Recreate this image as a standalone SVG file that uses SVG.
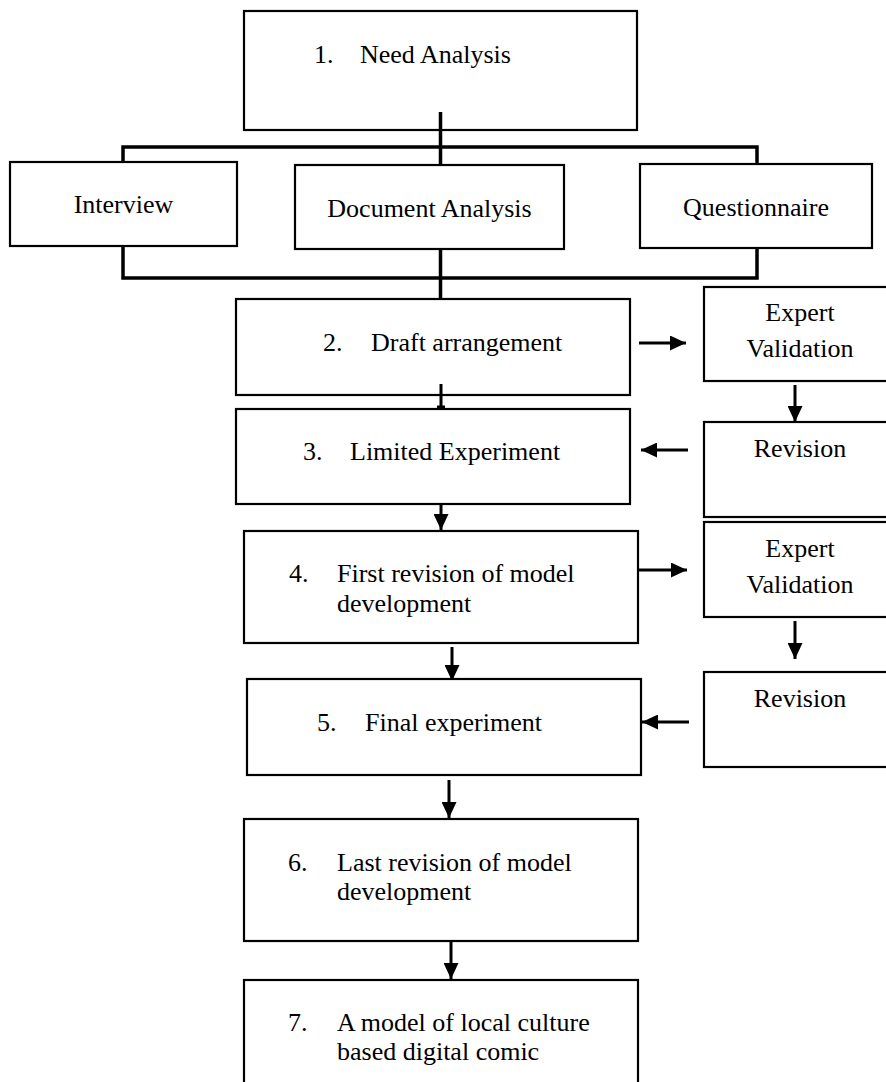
<svg xmlns="http://www.w3.org/2000/svg" width="886" height="1082" viewBox="0 0 886 1082">
<style>
.box{fill:#fff;stroke:#000;stroke-width:2.2}
.t{font-family:"Liberation Serif","Times New Roman",serif;font-size:26px;fill:#000}
.m{text-anchor:middle}
.ln{fill:none;stroke:#000;stroke-width:3.5}
.ar{fill:none;stroke:#000;stroke-width:3;marker-end:url(#ah)}
</style>
<defs>
<marker id="ah" markerUnits="userSpaceOnUse" markerWidth="16" markerHeight="15" refX="16" refY="7.5" orient="auto">
<path d="M0,0 L16,7.5 L0,15 z" fill="#000"/>
</marker>
</defs>
<rect width="886" height="1082" fill="#fff"/>
<g id="n1"><rect class="box" x="244" y="11" width="393" height="119"/><text class="t" x="314" y="63">1.</text><text class="t" x="360" y="63">Need Analysis</text></g>
<g id="connectors">
<path class="ln" d="M440.5,112 V165 M123,162 V147 H757 V164"/>
<path class="ln" d="M123,245 V278 H757 V245 M440.5,247 V299"/>
<path d="M441,384 V408 M437,407 H445" fill="none" stroke="#000" stroke-width="3"/>
<line class="ar" x1="639" y1="343" x2="686" y2="343"/>
<line class="ar" x1="795" y1="385" x2="795" y2="422"/>
<line class="ar" x1="688" y1="450" x2="641" y2="450"/>
<line class="ar" x1="441" y1="504" x2="441" y2="530"/>
<line class="ar" x1="639" y1="570" x2="687" y2="570"/>
<line class="ar" x1="795" y1="621" x2="795" y2="659"/>
<line class="ar" x1="452" y1="647" x2="452" y2="681"/>
<line class="ar" x1="689" y1="722" x2="642" y2="722"/>
<line class="ar" x1="449" y1="780" x2="449" y2="818"/>
<line class="ar" x1="451" y1="941" x2="451" y2="979"/>
</g>
<g id="interview"><rect class="box" x="10" y="162" width="227" height="84"/><text class="t m" x="123.5" y="213">Interview</text></g>
<g id="docanalysis"><rect class="box" x="295" y="165" width="269" height="84"/><text class="t m" x="429.5" y="217">Document Analysis</text></g>
<g id="questionnaire"><rect class="box" x="640" y="164" width="232" height="84"/><text class="t m" x="756" y="216">Questionnaire</text></g>
<g id="n2"><rect class="box" x="236" y="299" width="394" height="96" fill-opacity="0"/><text class="t" x="323" y="351">2.</text><text class="t" x="371" y="351">Draft arrangement</text></g>
<g id="ev1"><rect class="box" x="704" y="287" width="200" height="94"/><text class="t m" x="800" y="321">Expert</text><text class="t m" x="800" y="357">Validation</text></g>
<g id="n3"><rect class="box" x="236" y="409" width="394" height="95"/><text class="t" x="303" y="460">3.</text><text class="t" x="350" y="460">Limited Experiment</text></g>
<g id="rev1"><rect class="box" x="704" y="422" width="200" height="95"/><text class="t m" x="800" y="457">Revision</text></g>
<g id="n4"><rect class="box" x="244" y="531" width="394" height="112"/><text class="t" x="289" y="582">4.</text><text class="t" x="337" y="582">First revision of model</text><text class="t" x="337" y="612">development</text></g>
<g id="ev2"><rect class="box" x="704" y="522" width="200" height="95"/><text class="t m" x="800" y="557">Expert</text><text class="t m" x="800" y="593">Validation</text></g>
<g id="rev2"><rect class="box" x="704" y="672" width="200" height="95"/><text class="t m" x="800" y="707">Revision</text></g>
<g id="n5"><rect class="box" x="247" y="679" width="394" height="96"/><text class="t" x="317" y="731">5.</text><text class="t" x="365" y="731">Final experiment</text></g>
<g id="n6"><rect class="box" x="244" y="819" width="394" height="122"/><text class="t" x="288" y="871">6.</text><text class="t" x="337" y="871">Last revision of model</text><text class="t" x="337" y="900">development</text></g>
<g id="n7"><rect class="box" x="244" y="980" width="394" height="130"/><text class="t" x="288" y="1031">7.</text><text class="t" x="337" y="1031">A model of local culture</text><text class="t" x="337" y="1060">based digital comic</text></g>
</svg>
